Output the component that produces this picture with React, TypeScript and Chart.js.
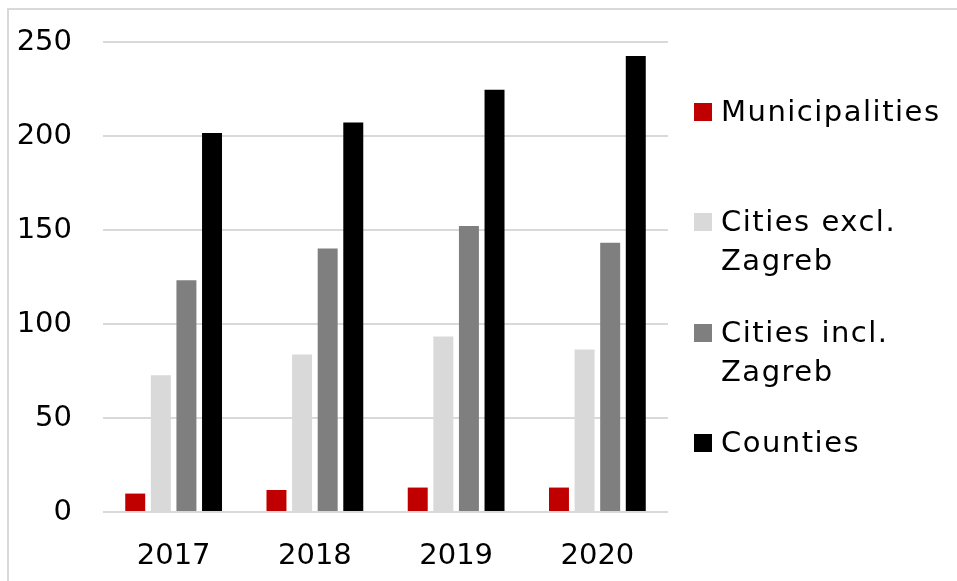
import React, { useEffect, useRef } from "react";
import { Chart, registerables } from "chart.js";

Chart.register(...registerables);

const categories = ["2017", "2018", "2019", "2020"];
const municipalities = [9.8, 11.7, 13.0, 13.0];
const citiesExclZagreb = [72.7, 83.8, 93.3, 86.5];
const citiesInclZagreb = [123.3, 140.2, 152.1, 143.2];
const counties = [201.6, 207.2, 224.6, 242.6];
const seriesNames = [["Municipalities"], ["Cities excl.", "Zagreb"], ["Cities incl.", "Zagreb"], ["Counties"]];
const seriesColors = ["#c00000", "#d9d9d9", "#7f7f7f", "#000000"];
const yTicks = [0, 50, 100, 150, 200, 250];

const FONT = "'DejaVu Sans', sans-serif";

export default function App() {
  const ref = useRef<HTMLCanvasElement | null>(null);

  useEffect(() => {
    if (!ref.current) return;
    const values = [municipalities, citiesExclZagreb, citiesInclZagreb, counties];
    const chart = new Chart(ref.current, {
      type: "bar",
      data: {
        labels: categories,
        datasets: values.map((v, i) => ({
          label: seriesNames[i].join(" "),
          data: v,
          backgroundColor: seriesColors[i],
          borderWidth: 0,
          categoryPercentage: 0.725,
          barPercentage: 0.78,
        })),
      },
      options: {
        responsive: false,
        animation: false,
        devicePixelRatio: 1,
        layout: { padding: { left: 0, top: 42, right: 289, bottom: 0 } },
        plugins: { legend: { display: false }, tooltip: { enabled: false } },
        scales: {
          x: {
            grid: { display: false },
            border: { display: false },
            ticks: { color: "#000", font: { family: FONT, size: 29 }, padding: 19 },
            afterFit: (s: any) => { s.height = 69; s.paddingLeft = 0; s.paddingRight = 0; },
          },
          y: {
            min: 0,
            max: 250,
            afterBuildTicks: (s: any) => { s.ticks = yTicks.map((v) => ({ value: v })); },
            grid: { color: "#d9d9d9", lineWidth: 2, drawTicks: false },
            border: { display: false },
            ticks: { color: "#000", font: { family: FONT, size: 29 }, padding: 31 },
            afterFit: (s: any) => { s.width = 103; s.paddingTop = 0; s.paddingBottom = 0; },
          },
        },
      },
    });
    return () => chart.destroy();
  }, []);

  return (
    <div style={{ position: "fixed", left: 0, top: 0, width: 957, height: 581, overflow: "hidden", background: "#fff" }}>
      <div style={{ position: "absolute", left: 7, top: 8, width: 1200, height: 1200, borderTop: "2px solid #d9d9d9", borderLeft: "2px solid #d9d9d9" }} />
      <canvas ref={ref} width={957} height={581} style={{ position: "absolute", left: 0, top: 0, width: 957, height: 581 }} />
      {seriesNames.map((lines, i) => (
        <div key={i} style={{ position: "absolute", left: 694, top: 92 + i * 110.3, fontFamily: FONT, fontSize: 29, lineHeight: "39px", letterSpacing: "1.5px", color: "#000" }}>
          <span style={{ position: "absolute", left: 0, top: 11, width: 18, height: 18, background: seriesColors[i] }} />
          <div style={{ marginLeft: 27, whiteSpace: "nowrap" }}>
            {lines.map((l, j) => (<div key={j}>{l}</div>))}
          </div>
        </div>
      ))}
    </div>
  );
}
